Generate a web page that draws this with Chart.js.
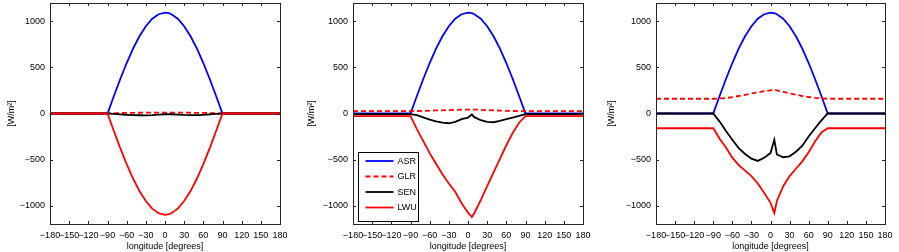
<!DOCTYPE html>
<html>
<head>
<meta charset="utf-8">
<script src="https://cdn.jsdelivr.net/npm/chart.js@4.4.0/dist/chart.umd.min.js"></script>
<style>
  body { margin: 0; background: #fff; overflow: hidden; width: 899px; height: 252px; position: relative; }
  .panel { position: absolute; top: 0; height: 252px; }
</style>
</head>
<body>
<div class="panel" style="left:0;width:300px"><canvas id="c1" width="300" height="252"></canvas></div>
<div class="panel" style="left:300px;width:300px"><canvas id="c2" width="300" height="252"></canvas></div>
<div class="panel" style="left:600px;width:299px"><canvas id="c3" width="299" height="252"></canvas></div>
<script>
// longitude grid (degrees)
const lon = [-180, -90, -80, -70, -60, -50, -40, -30, -20, -10, 0, 6, 10, 20, 30, 40, 50, 60, 70, 80, 90, 180];

// absorbed shortwave, same in all three panels
const asr = [0, 0, 190, 375, 548, 704, 839, 948, 1029, 1078, 1095, 1089, 1078, 1029, 948, 839, 704, 548, 375, 190, 0, 0];

// panel 1
const glr1 = [0, 0, 3, 5, 6, 7, 8, 9, 10, 10, 10, 10, 10, 10, 9, 8, 7, 6, 5, 3, 0, 0];
const sen1 = [0, 0, -5, -10, -14, -17, -19, -20, -18, -12, -8, -6, -8, -12, -16, -18, -17, -14, -10, -5, 0, 0];
const lwu1 = [0, 0, -190, -376, -550, -706, -842, -951, -1033, -1083, -1100, -1094, -1083, -1033, -951, -842, -706, -550, -376, -190, 0, 0];

// panel 2
const glr2 = [25, 25, 27, 29, 31, 33, 35, 37, 39, 41, 43, 44, 43, 40, 37, 34, 31, 29, 27, 26, 25, 25];
const sen2 = [-7, -7, -18, -42, -66, -85, -100, -106, -91, -62, -44, -11, -40, -73, -91, -95, -80, -62, -44, -26, -7, -7];
const lwu2 = [-28, -28, -170, -300, -430, -545, -660, -760, -850, -975, -1077, -1124, -1080, -940, -790, -640, -493, -345, -210, -100, -28, -28];

// panel 3
const glr3 = [160, 160, 163, 168, 178, 190, 203, 217, 230, 242, 252, 262, 250, 235, 219, 204, 190, 179, 170, 164, 160, 160];
const sen3 = [0, 0, -88, -190, -285, -375, -440, -490, -515, -480, -430, -285, -445, -475, -465, -415, -350, -250, -160, -75, 0, 0];
const lwu3 = [-160, -160, -275, -370, -480, -560, -620, -680, -760, -860, -970, -1080, -950, -790, -680, -600, -520, -420, -305, -205, -160, -160];

// axes
const xTicks = [-180, -150, -120, -90, -60, -30, 0, 30, 60, 90, 120, 150, 180];
const xTickLabels = ['\u2212180', '\u2212150', '\u2212120', '\u221290', '\u221260', '\u221230', '0', '30', '60', '90', '120', '150', '180'];
const yTicks = [-1000, -500, 0, 500, 1000];
const yTickLabels = ['\u22121000', '\u2212500', '0', '500', '1000'];
const seriesNames = ['ASR', 'GLR', 'SEN', 'LWU'];

const FONT = 'Liberation Sans, Arial, Helvetica, sans-serif';

// MATLAB style box with inward ticks + optional legend inside the axes
const framePlugin = {
    id: 'frame',
    afterDatasetsDraw(chart, args, opts) {
        const ctx = chart.ctx;
        const a = chart.chartArea;
        const xs = chart.scales.x, ys = chart.scales.y;
        ctx.save();
        ctx.strokeStyle = '#262626';
        ctx.lineWidth = 1;
        ctx.strokeRect(a.left + 0.5, a.top + 0.5, a.right - a.left, a.bottom - a.top);
        ctx.beginPath();
        xTicks.forEach(v => {
            const px = Math.round(xs.getPixelForValue(v)) + 0.5;
            ctx.moveTo(px, a.bottom); ctx.lineTo(px, a.bottom - 3);
            ctx.moveTo(px, a.top); ctx.lineTo(px, a.top + 3);
        });
        yTicks.forEach(v => {
            const py = Math.round(ys.getPixelForValue(v)) + 0.5;
            ctx.moveTo(a.left, py); ctx.lineTo(a.left + 3, py);
            ctx.moveTo(a.right, py); ctx.lineTo(a.right - 3, py);
        });
        ctx.stroke();

        if (opts.legend) {
            const w = 60, rowH = 15.5;
            const h = rowH * 4 + 7;
            const left = a.left + 5.5;
            const top = a.bottom - 3 - h + 0.5;
            ctx.fillStyle = '#fff';
            ctx.fillRect(left, top, w, h);
            ctx.strokeStyle = '#000';
            ctx.strokeRect(left, top, w, h);
            chart.data.datasets.forEach((ds, i) => {
                const yy = top + 8.5 + i * rowH;
                ctx.beginPath();
                ctx.strokeStyle = ds.borderColor;
                ctx.lineWidth = ds.borderWidth;
                ctx.setLineDash(ds.borderDash || []);
                ctx.moveTo(left + 7, yy);
                ctx.lineTo(left + 35, yy);
                ctx.stroke();
                ctx.setLineDash([]);
                ctx.fillStyle = '#000';
                ctx.font = '9px ' + FONT;
                ctx.textBaseline = 'middle';
                ctx.fillText(ds.label, left + 39, yy + 0.5);
            });
        }
        ctx.restore();
    }
};

function makeSeries(values) {
    return lon.map((l, i) => ({ x: l, y: values[i] }));
}

function makePanel(id, glr, sen, lwu, leftW, rightPad, showLegend) {
    const ctx = document.getElementById(id).getContext('2d');
    return new Chart(ctx, {
        type: 'line',
        data: {
            datasets: [
                { label: seriesNames[0], data: makeSeries(asr), borderColor: '#0000ff', borderWidth: 1.8, order: 3 },
                { label: seriesNames[1], data: makeSeries(glr), borderColor: '#ff0000', borderWidth: 1.8, borderDash: [5, 3], order: 2 },
                { label: seriesNames[2], data: makeSeries(sen), borderColor: '#000000', borderWidth: 1.8, order: 1 },
                { label: seriesNames[3], data: makeSeries(lwu), borderColor: '#ff0000', borderWidth: 1.8, order: 0 }
            ]
        },
        options: {
            responsive: false,
            animation: false,
            devicePixelRatio: 1,
            elements: { point: { radius: 0 }, line: { tension: 0 } },
            layout: { padding: { top: 3, right: rightPad, left: 0, bottom: 0 } },
            plugins: {
                legend: { display: false },
                tooltip: { enabled: false },
                frame: { legend: showLegend }
            },
            scales: {
                x: {
                    type: 'linear',
                    min: -180, max: 180,
                    afterBuildTicks: s => { s.ticks = xTicks.map(v => ({ value: v })); },
                    afterFit: s => { s.height = 28; s.paddingLeft = 0; s.paddingRight = 0; },
                    grid: { display: false, drawTicks: false },
                    border: { display: false },
                    ticks: {
                        autoSkip: false, maxRotation: 0, padding: 6,
                        color: '#000', font: { family: FONT, size: 9 },
                        callback: (v, i) => xTickLabels[i]
                    },
                    title: {
                        display: true, text: 'longitude [degrees]', color: '#000',
                        font: { family: FONT, size: 9 }, padding: { top: 2, bottom: 0 }
                    }
                },
                y: {
                    min: -1200, max: 1200,
                    afterBuildTicks: s => { s.ticks = yTicks.map(v => ({ value: v })); },
                    afterFit: s => { s.width = leftW; s.paddingTop = 0; s.paddingBottom = 0; },
                    grid: { display: false, drawTicks: false },
                    border: { display: false },
                    ticks: {
                        autoSkip: false, padding: 5,
                        color: '#000', font: { family: FONT, size: 9 },
                        callback: (v, i) => yTickLabels[i]
                    },
                    title: {
                        display: true, text: '[W/m\u00b2]', color: '#000',
                        font: { family: FONT, size: 9 }, padding: { top: 6, bottom: 0 }
                    }
                }
            }
        },
        plugins: [framePlugin]
    });
}

makePanel('c1', glr1, sen1, lwu1, 50, 20, false);
makePanel('c2', glr2, sen2, lwu2, 53, 17, true);
makePanel('c3', glr3, sen3, lwu3, 56, 14, false);
</script>
</body>
</html>
